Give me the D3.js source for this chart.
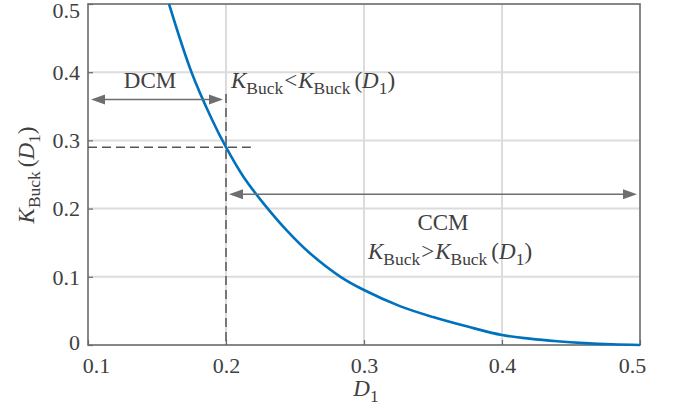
<!DOCTYPE html>
<html>
<head>
<meta charset="utf-8">
<script src="https://cdn.jsdelivr.net/npm/d3@7/dist/d3.min.js"></script>
<style>
  html, body { margin: 0; padding: 0; background: #fff; }
  svg { display: block; }
</style>
</head>
<body>
<svg id="chart" width="674" height="406"></svg>
<script>
// Critical conduction coefficient of the buck stage versus duty cycle D1
const dutyD1 = [0.1587, 0.175, 0.19, 0.2, 0.2125, 0.227, 0.244, 0.26, 0.283, 0.3,
                0.326, 0.35, 0.375, 0.4, 0.42, 0.44, 0.46, 0.48, 0.5];
const kBuckCrit = [0.5, 0.4, 0.33, 0.29, 0.247, 0.208, 0.168, 0.136, 0.1, 0.0806,
                   0.057, 0.041, 0.027, 0.0146, 0.0093, 0.0055, 0.0028, 0.001, 0];

const xTickValues = [0.1, 0.2, 0.3, 0.4, 0.5];
const xTickLabels = ["0.1", "0.2", "0.3", "0.4", "0.5"];
const yTickValues = [0, 0.1, 0.2, 0.3, 0.4, 0.5];
const yTickLabels = ["0", "0.1", "0.2", "0.3", "0.4", "0.5"];

// Operating point on the boundary and the extents of the mode arrows
const boundaryD = 0.2;
const boundaryK = 0.29;
const boundaryTopK = 0.368;
const boundaryHLineEndD = 0.218;
const dcmArrow = { from: 0.1, to: 0.2, k: 0.36 };
const ccmArrow = { from: 0.2, to: 0.5, k: 0.221 };

const FONT = '"Liberation Serif", "Times New Roman", Times, "DejaVu Serif", serif';
const TEXT_COLOR = "#404040";
const TICK_SIZE = 22;
const LABEL_SIZE = 23;

const svg = d3.select("#chart").attr("font-family", FONT);
const plotLeft = 88, plotRight = 640, plotTop = 4, plotBottom = 345;

const x = d3.scaleLinear().domain([0.1, 0.5]).range([plotLeft, plotRight]);
const y = d3.scaleLinear().domain([0, 0.5]).range([plotBottom, plotTop]);

const gridColor = "#dcdcdc";
const axisColor = "#6a6a6a";
const dashColor = "#555555";
const arrowColor = "#6e6e6e";

// grid
const grid = svg.append("g");
grid.selectAll("line.gx").data(xTickValues.slice(1, -1)).join("line")
  .attr("x1", d => x(d)).attr("x2", d => x(d))
  .attr("y1", plotTop).attr("y2", plotBottom)
  .attr("stroke", gridColor).attr("stroke-width", 2);
grid.selectAll("line.gy").data(yTickValues.slice(1, -1)).join("line")
  .attr("y1", d => y(d)).attr("y2", d => y(d))
  .attr("x1", plotLeft).attr("x2", plotRight)
  .attr("stroke", gridColor).attr("stroke-width", 2);

// axes with inward ticks
const xAxis = d3.axisBottom(x).tickValues(xTickValues)
  .tickFormat((d, i) => xTickLabels[i]).tickSizeInner(-5).tickSizeOuter(0).tickPadding(0);
const yAxis = d3.axisLeft(y).tickValues(yTickValues)
  .tickFormat((d, i) => yTickLabels[i]).tickSizeInner(-5).tickSizeOuter(0).tickPadding(8);

const gx = svg.append("g").attr("transform", `translate(0,${plotBottom})`).call(xAxis);
const gy = svg.append("g").attr("transform", `translate(${plotLeft},0)`).call(yAxis);
[gx, gy].forEach(g => {
  g.attr("font-family", FONT).attr("font-size", TICK_SIZE);
  g.select(".domain").remove();
  g.selectAll(".tick line").attr("stroke", axisColor).attr("stroke-width", 1.2);
  g.selectAll(".tick text").attr("fill", TEXT_COLOR).style("font-family", FONT);
});
// end labels are pulled inside the plot extent
gx.selectAll(".tick text").attr("y", 28).attr("dy", 0)
  .attr("x", (d, i) => i === 0 ? 8 : (i === xTickValues.length - 1 ? -8 : 0));
gy.selectAll(".tick text").attr("dy", "0.33em")
  .attr("y", (d, i) => i === 0 ? -3 : (i === yTickValues.length - 1 ? 6 : 0));

// frame
svg.append("rect").attr("x", plotLeft).attr("y", plotTop)
  .attr("width", plotRight - plotLeft).attr("height", plotBottom - plotTop)
  .attr("fill", "none").attr("stroke", axisColor).attr("stroke-width", 1.6);

// boundary guide lines
svg.append("line")
  .attr("x1", x(boundaryD)).attr("x2", x(boundaryD))
  .attr("y1", y(boundaryTopK)).attr("y2", y(0))
  .attr("stroke", dashColor).attr("stroke-width", 1.5).attr("stroke-dasharray", "9,5");
svg.append("line")
  .attr("x1", x(0.1)).attr("x2", x(boundaryHLineEndD))
  .attr("y1", y(boundaryK)).attr("y2", y(boundaryK))
  .attr("stroke", dashColor).attr("stroke-width", 1.5).attr("stroke-dasharray", "9,5");

// critical curve
const line = d3.line().x(d => x(d)).y((d, i) => y(kBuckCrit[i])).curve(d3.curveCatmullRom.alpha(0.5));
svg.append("path").datum(dutyD1).attr("d", line)
  .attr("fill", "none").attr("stroke", "#0072BD").attr("stroke-width", 2.6);

// double-headed arrows
function doubleArrow(a) {
  const x0 = x(a.from) + 3, x1 = x(a.to) - 3, yy = y(a.k);
  const hl = 14, hw = 5;
  const g = svg.append("g");
  g.append("line").attr("x1", x0 + hl - 2).attr("x2", x1 - hl + 2)
    .attr("y1", yy).attr("y2", yy).attr("stroke", arrowColor).attr("stroke-width", 1.6);
  g.append("path").attr("d", `M${x0},${yy}L${x0 + hl},${yy - hw}L${x0 + hl},${yy + hw}Z`)
    .attr("fill", arrowColor);
  g.append("path").attr("d", `M${x1},${yy}L${x1 - hl},${yy - hw}L${x1 - hl},${yy + hw}Z`)
    .attr("fill", arrowColor);
}
doubleArrow(dcmArrow);
doubleArrow(ccmArrow);

// text with italic symbols and subscripts
function mathText(parent, xx, yy, parts, size, anchor) {
  const t = parent.append("text").attr("x", xx).attr("y", yy)
    .attr("text-anchor", anchor || "start")
    .attr("font-family", FONT).attr("font-size", size).attr("fill", TEXT_COLOR);
  let shifted = false;
  parts.forEach(p => {
    const s = t.append("tspan").text(p.t);
    if (p.i) s.attr("font-style", "italic");
    if (p.sub) {
      s.attr("font-size", size * 0.76);
      if (!shifted) { s.attr("dy", size * 0.24); shifted = true; }
    } else if (shifted) {
      s.attr("dy", -size * 0.24); shifted = false;
    }
    if (p.dx) s.attr("dx", p.dx);
  });
  return t;
}

function plainText(xx, yy, str, size, anchor) {
  return svg.append("text").attr("x", xx).attr("y", yy)
    .attr("text-anchor", anchor).attr("font-family", FONT)
    .attr("font-size", size).attr("fill", TEXT_COLOR).text(str);
}

const kLess = [
  { t: "K", i: true }, { t: "Buck", sub: true }, { t: "<", dx: 1 },
  { t: "K", i: true, dx: 1 }, { t: "Buck", sub: true }, { t: "(", dx: 4 },
  { t: "D", i: true }, { t: "1", sub: true }, { t: ")" }
];
const kMore = [
  { t: "K", i: true }, { t: "Buck", sub: true }, { t: ">", dx: 1 },
  { t: "K", i: true, dx: 1 }, { t: "Buck", sub: true }, { t: "(", dx: 4 },
  { t: "D", i: true }, { t: "1", sub: true }, { t: ")" }
];

plainText(150, 88, "DCM", LABEL_SIZE, "middle");
mathText(svg, 231, 88, kLess, LABEL_SIZE, "start");
plainText(443, 230, "CCM", LABEL_SIZE, "middle");
mathText(svg, 450, 259, kMore, LABEL_SIZE, "middle");

// axis titles
mathText(svg, 366, 396, [{ t: "D", i: true }, { t: "1", sub: true }], LABEL_SIZE, "middle");
const yTitle = svg.append("g").attr("transform", "translate(34,175) rotate(-90)");
mathText(yTitle, 0, 0, [
  { t: "K", i: true }, { t: "Buck", sub: true }, { t: "(", dx: 4 },
  { t: "D", i: true }, { t: "1", sub: true }, { t: ")" }
], LABEL_SIZE, "middle");
</script>
</body>
</html>
